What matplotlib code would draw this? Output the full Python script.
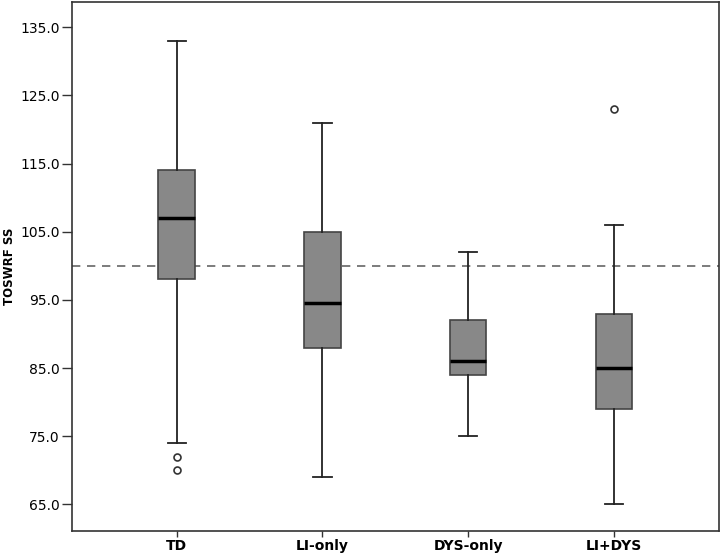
import matplotlib
matplotlib.use("Agg")
import matplotlib.pyplot as plt

OUTPUT = "out.png"

groups = ["TD", "LI-only", "DYS-only", "LI+DYS"]
whislo = [74, 69, 75, 65]
q1 = [98, 88, 84, 79]
med = [107, 94.5, 86, 85]
q3 = [114, 105, 92, 93]
whishi = [133, 121, 102, 106]
fliers = [[72, 70], [], [], [123]]
yticks = [65, 75, 85, 95, 105, 115, 125, 135]

stats = []
for i, name in enumerate(groups):
    stats.append({
        "label": name,
        "whislo": whislo[i],
        "q1": q1[i],
        "med": med[i],
        "q3": q3[i],
        "whishi": whishi[i],
        "fliers": fliers[i],
    })

fig = plt.figure(figsize=(7.22, 5.56), dpi=100)
ax = fig.add_axes([0.0993, 0.0455, 0.8965, 0.9515])

ax.bxp(
    stats,
    positions=[1, 2, 3, 4],
    widths=0.25,
    patch_artist=True,
    showfliers=True,
    boxprops=dict(facecolor="#888888", edgecolor="#444444", linewidth=1.2),
    medianprops=dict(color="black", linewidth=2.5),
    whiskerprops=dict(color="#222222", linewidth=1.3),
    capprops=dict(color="#222222", linewidth=1.3),
    capwidths=0.125,
    flierprops=dict(marker="o", markersize=5, markerfacecolor="white",
                    markeredgecolor="#333333", markeredgewidth=1.2),
)

# reference line at the standard-score mean
ax.axhline(100, color="#666666", linestyle=(0, (5, 4)), linewidth=1.2, zorder=0)

ax.set_xlim(0.28, 4.72)
ax.set_ylim(61.13, 138.76)
ax.set_yticks(yticks)
ax.set_yticklabels([f"{v:.1f}" for v in yticks], fontsize=10)
ax.set_xticks([1, 2, 3, 4])
ax.set_xticklabels(groups, fontsize=10, fontweight="bold")
ax.tick_params(axis="y", length=7, width=1, color="#333333", pad=1.5)
ax.tick_params(axis="x", length=4.5, width=1, color="#333333", pad=1.5)
ax.set_ylabel("TOSWRF SS", fontsize=8.5, fontweight="bold")
ax.yaxis.set_label_coords(-0.086, 0.5)

for spine in ax.spines.values():
    spine.set_color("#333333")
    spine.set_linewidth(1.2)

fig.savefig(OUTPUT, dpi=100)
